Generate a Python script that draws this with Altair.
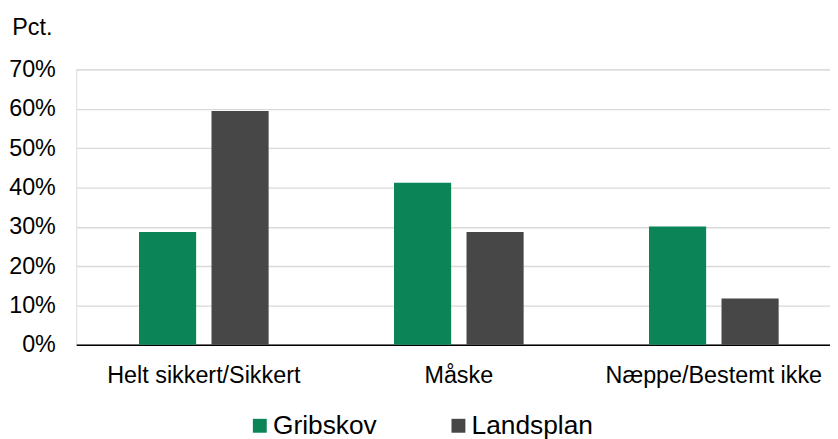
import altair as alt
import pandas as pd

categories = ["Helt sikkert/Sikkert", "Måske", "Næppe/Bestemt ikke"]
series_names = ["Gribskov", "Landsplan"]
gribskov = [0.287, 0.412, 0.301]
landsplan = [0.594, 0.287, 0.118]
y_ticks = [0, 0.1, 0.2, 0.3, 0.4, 0.5, 0.6, 0.7]
colors = ["#0B8457", "#474747"]

rows = []
for c, g, l in zip(categories, gribskov, landsplan):
    rows.append({"kategori": c, "serie": series_names[0], "værdi": g})
    rows.append({"kategori": c, "serie": series_names[1], "værdi": l})
df = pd.DataFrame(rows)

FONT = "Liberation Sans"

chart = alt.Chart(df).mark_bar().encode(
    x=alt.X(
        "kategori:N",
        sort=categories,
        title=None,
        scale=alt.Scale(paddingInner=0.4917, paddingOuter=0.2238, align=0.55),
        axis=alt.Axis(
            labelAngle=0,
            labelPadding=19,
            labelLimit=0,
            ticks=False,
            tickSize=0,
            domainColor="#000000",
            domainWidth=1.5,
            labelFont=FONT,
            labelFontSize=23.5,
            labelColor="#000000",
            grid=False,
        ),
    ),
    xOffset=alt.XOffset(
        "serie:N",
        sort=series_names,
        scale=alt.Scale(paddingInner=0.212, paddingOuter=0),
    ),
    y=alt.Y(
        "værdi:Q",
        scale=alt.Scale(domain=[0, 0.7], nice=False),
        axis=alt.Axis(
            values=y_ticks,
            format=".0%",
            domain=False,
            ticks=False,
            tickSize=0,
            labelPadding=21,
            labelFont=FONT,
            labelFontSize=23.5,
            labelColor="#000000",
            gridColor="#D9D9D9",
            gridWidth=1.3,
            title="Pct.",
            titleAngle=0,
            titleAlign="left",
            titleBaseline="alphabetic",
            titleX=-65,
            titleY=-35.3,
            titleFont=FONT,
            titleFontSize=23.5,
            titleFontWeight="normal",
            titleColor="#000000",
        ),
    ),
    color=alt.Color(
        "serie:N",
        sort=series_names,
        scale=alt.Scale(domain=series_names, range=colors),
        legend=alt.Legend(
            title=None,
            orient="none",
            direction="horizontal",
            legendX=171.6,
            legendY=345.5,
            padding=0,
            symbolType="square",
            symbolSize=196,
            symbolStrokeWidth=0,
            labelOffset=0,
            columnPadding=68,
            labelFont=FONT,
            labelFontSize=26.5,
            labelLimit=0,
            labelColor="#000000",
        ),
    ),
).properties(
    width=759,
    height=277.4,
    autosize=alt.AutoSizeParams(type="none"),
    padding={"left": 68.7, "top": 60.3, "right": 0, "bottom": 93.3},
).configure_view(stroke=None).configure(background="#FFFFFF")

chart.save("out.html", embed_options={"renderer": "svg", "actions": False})
